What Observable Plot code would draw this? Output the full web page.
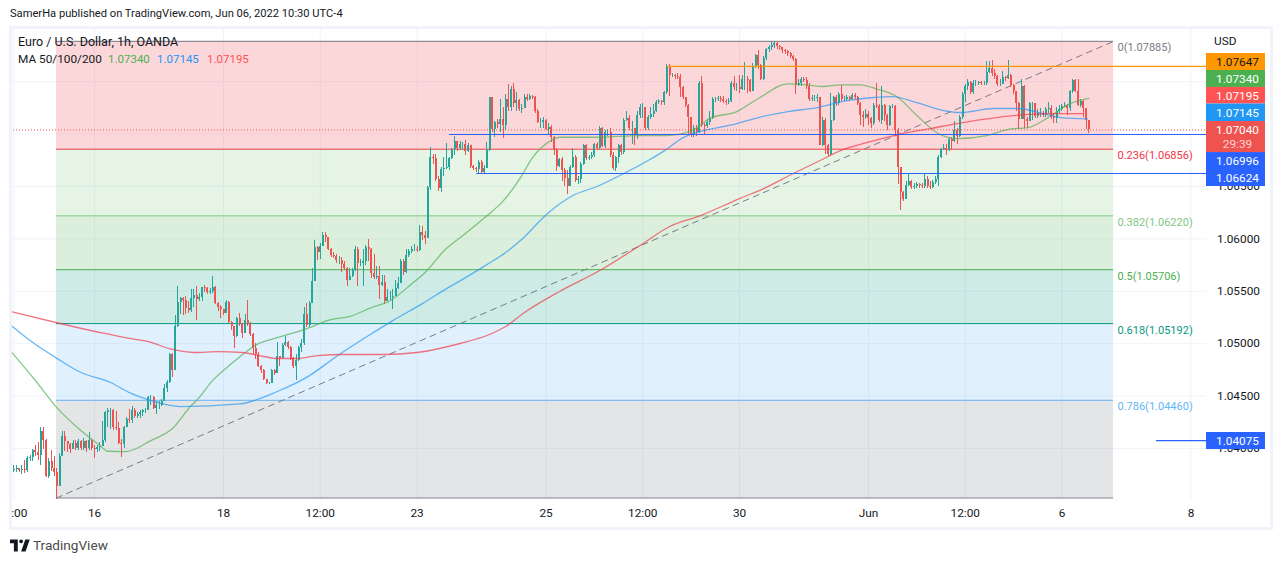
<!DOCTYPE html>
<html><head><meta charset="utf-8">
<script src="https://cdn.jsdelivr.net/npm/d3@7"></script>
<script src="https://cdn.jsdelivr.net/npm/@observablehq/plot@0.6"></script>
<style>
html,body{margin:0;padding:0;background:#fff;overflow:hidden}
body{width:1280px;height:563px;position:relative;font-family:Roboto,sans-serif;color:#131722}
svg{display:block}
#by{height:26px;line-height:27px;padding-left:10px;font-size:11.15px;color:#131722;white-space:nowrap}
#frame{position:absolute;left:9px;top:26px;width:1258px;height:498px;border:3px solid #f0f3fa;pointer-events:none}
.over{position:absolute;font-size:11.5px;white-space:nowrap;line-height:14px}
#foot{position:absolute;left:10px;top:537px;height:16px;display:flex;align-items:center;font-size:13.6px;color:#4a4a4a}
#foot img{width:20px;height:13px;margin-right:3px;display:block}
</style></head><body>
<div id="by">SamerHa published on TradingView.com, Jun 06, 2022 10:30 UTC-4</div>
<div id="chart"></div>
<div id="frame"></div>
<div class="over" style="left:18px;top:35px;font-size:12.5px">Euro / U.S. Dollar, 1h, OANDA</div>
<div class="over" style="left:18px;top:52px;font-size:11.8px">MA 50/100/200</div>
<div class="over" style="left:108px;top:52px;color:#4caf50">1.07340</div>
<div class="over" style="left:157px;top:52px;color:#2196f3">1.07145</div>
<div class="over" style="left:207px;top:52px;color:#ff5252">1.07195</div>
<div class="over" style="left:1214px;top:34px;font-size:11.8px">USD</div>
<div id="foot"><img alt="" src="data:image/svg+xml,%3Csvg xmlns='http://www.w3.org/2000/svg' viewBox='0 0 36 22'%3E%3Cpath fill='%23131722' d='M14 0H0v7h7v15h7zM28 22h-8l7.5-22h8zM20 0a3.500 3.500 0 1 1 0 7a3.500 3.500 0 0 1 0-7z'/%3E%3C/svg%3E"><span>TradingView</span></div>
<script>
// Hourly candles, pips above 1.0000, first bar = index -30 (bar 0 is the "16" tick)
const firstBar = -30;
const firstOpen = 379;
const closes = [
380,381,379,380,379,390,391,398,396,393,
416,408,373,388,381,377,364,392,411,407,
404,399,405,400,407,400,407,400,408,400,
399,401,402,408,434,436,436,420,419,405,
404,420,428,427,436,431,432,434,436,436,
449,449,438,441,441,445,457,463,490,474,
516,539,543,541,534,532,543,546,542,544,
554,553,549,550,554,538,535,533,529,539,
520,516,507,524,518,510,522,518,509,495,
490,478,474,466,462,462,474,472,488,486,
498,501,496,486,478,484,496,500,528,517,
538,559,592,587,593,603,601,590,584,583,
579,579,576,572,560,564,570,590,577,577,
578,592,590,567,563,564,556,558,540,544,
544,545,553,557,578,568,584,588,590,590,
589,606,603,600,649,678,677,657,648,666,
667,668,677,685,693,686,690,690,683,689,
669,667,666,673,663,667,684,735,704,711,
709,714,708,733,725,743,729,732,723,724,
735,733,736,735,722,711,711,713,704,706,
697,684,669,676,665,658,650,668,678,656,
657,671,689,677,678,680,690,686,705,688,
702,702,680,667,678,689,682,713,715,705,
705,699,718,725,725,705,716,719,722,730,
731,730,740,764,756,756,755,754,744,735,
727,716,699,705,702,748,708,707,711,715,
733,733,734,733,731,730,731,748,744,744,
743,752,752,751,741,764,775,765,752,772,
781,783,785,786,784,783,780,779,777,774,
771,746,748,752,751,745,733,734,734,735,
689,713,689,681,713,735,729,738,733,733,
735,733,737,735,729,718,716,719,715,710,
727,726,713,727,718,708,726,726,703,668,
644,638,651,655,649,650,652,651,650,657,
650,649,654,657,678,685,686,684,695,693,
703,698,716,738,745,749,740,748,748,749,
748,748,759,763,758,755,747,747,754,753,
756,746,741,729,714,745,714,712,729,729,
717,720,720,718,723,724,716,715,722,723,
726,727,724,741,751,741,727,731,724,713,
704];
const highs = [
384,384,381,384,389,392,393,399,403,406,
420,420,409,390,398,392,381,395,416,416,
407,405,408,408,409,408,410,408,415,409,
403,403,406,426,435,438,438,437,435,425,
409,421,430,437,440,438,434,436,437,438,
450,451,450,445,445,447,461,465,491,491,
527,555,544,544,545,540,552,552,555,548,
554,556,554,553,564,555,539,536,533,541,
540,521,516,525,529,519,528,541,520,510,
500,492,479,475,466,463,475,475,501,488,
500,507,502,497,487,490,497,504,535,538,
540,572,598,593,596,606,606,601,591,587,
585,583,582,578,573,572,572,593,592,580,
590,594,599,591,585,574,574,565,565,552,
550,552,560,563,580,580,590,590,593,595,
593,613,612,607,650,687,681,681,660,668,
678,691,678,686,698,693,693,692,694,691,
689,670,668,675,675,670,692,735,734,712,
714,733,725,738,747,745,748,740,733,728,
738,738,738,737,736,723,715,716,714,710,
708,698,686,677,678,667,665,670,686,680,
660,673,690,690,680,682,691,692,707,706,
703,704,705,682,679,690,690,715,722,718,
712,705,722,728,729,725,718,725,728,732,
733,732,741,766,766,758,757,758,757,745,
735,728,716,708,708,750,755,710,714,722,
735,735,736,736,736,733,734,750,755,748,
756,756,768,755,752,767,776,780,766,774,
782,785,788,788,787,785,783,781,780,778,
775,772,752,754,754,754,748,737,737,738,
735,716,715,690,739,736,737,740,746,736,
737,736,739,739,736,730,722,723,722,716,
729,748,728,745,728,719,727,728,727,705,
668,645,655,662,656,653,654,653,653,661,
660,655,656,660,680,686,690,690,697,697,
712,705,718,740,747,752,750,751,751,750,
750,750,769,769,770,762,756,752,760,755,
770,757,747,741,730,752,746,716,730,730,
729,723,724,722,725,730,727,720,725,727,
728,730,728,742,752,752,752,733,732,724,
713];
const lows = [
377,377,377,375,376,377,388,388,392,389,
384,399,372,371,378,373,351,364,392,397,
396,395,399,398,398,398,398,396,398,398,
390,396,397,402,406,420,418,417,417,404,
391,400,420,424,424,429,429,429,431,433,
436,441,437,432,437,440,445,453,462,468,
474,515,528,527,528,529,530,535,522,540,
540,549,547,547,548,537,531,524,527,529,
519,513,495,506,516,505,510,516,507,490,
485,477,472,465,461,461,462,470,472,478,
486,497,494,484,476,465,483,492,498,515,
515,538,559,579,580,593,597,589,582,581,
577,576,568,570,555,561,563,569,555,574,
555,575,578,562,561,561,542,555,537,541,
541,533,545,552,559,565,567,582,586,588,
587,588,598,595,600,646,671,655,645,644,
660,666,665,676,680,683,684,685,680,682,
667,665,663,662,662,662,667,683,702,697,
705,702,696,703,722,722,725,722,722,720,
726,731,732,733,720,710,705,705,703,700,
692,680,664,668,655,650,642,650,667,654,
652,653,670,675,675,676,678,684,685,687,
686,698,678,665,664,672,680,681,712,703,
690,689,695,715,715,703,703,714,716,721,
728,727,727,738,736,754,752,752,735,733,
725,700,697,697,698,701,706,700,705,708,
714,730,731,730,729,727,728,730,742,741,
739,742,742,739,740,741,763,762,751,751,
770,778,780,782,781,780,777,776,774,772,
769,738,745,745,749,743,731,731,731,730,
689,688,681,679,680,712,726,727,731,731,
731,731,733,733,727,708,706,714,708,705,
708,724,711,709,712,703,707,724,700,652,
627,636,638,650,647,647,648,648,648,648,
648,647,648,652,650,677,684,680,683,684,
692,690,697,714,730,742,738,738,745,746,
746,746,746,758,755,752,745,745,747,750,
752,744,738,722,704,714,705,705,712,713,
715,715,716,716,716,720,714,710,710,720,
722,725,718,722,739,740,726,725,716,704,
701];

// Moving averages read at knots: bar index, pips above 1.0000
const ma50Bars = [-31,-22,-14,-5,2,5,11.5,21,29,36,38,44,51,61,67,78,88,95,103,110,118,123,131,136,146,152,158.5,163,170,173,187,203,213,222,229,239,247,258,265,271,277.6,285,291,299,306,314,321,332,341,347,355,363,370];
const ma50 = [492.5,464.9,439,417,403,397.4,397,407.6,419,441,446,465,481,500,505,513.5,523,526,534.5,541,557,568,591,601,622,636,658.5,677.6,694,697,697,698.6,698.6,703,715,721.5,734,748,747,745.4,747,747,743,735,717.7,700.5,695.7,698.6,705,706,716,729,734];
const ma100Bars = [-31,-24,-14,-5,6,13,21,32,54,68,80,90,102,111,122,131,136,146,153,158.5,168.5,178,187,197,206,212,219,239,247,258,269,280,290,297,306,316,322,334.5,343.5,353,359.5,369.5];
const ma100 = [517.3,503,486,472.5,463,453.4,445.8,440,442.5,454.4,469.6,487.8,507.8,522,538.3,552.6,560,575.5,587,598.4,624,641.4,650,662.4,674.8,684,696.7,710,715.8,721.5,725.3,732,734.9,735.8,730,722.5,720.6,724.4,724.4,719.6,715.8,714.5];
const ma200Bars = [-31,-14,2,13,20,29,37,46,55,63,68,75.5,83,92.6,107.5,120,136,147,153,160,173,188,203,214,225.5,240,249,260,270,277.6,287.6,299,311,323,342,354.6,368];
const ma200 = [530.7,520,510.7,505,502,494.5,491.6,492.5,491.6,487.8,485.9,485.9,488.7,489.7,489.7,491.6,500.2,508.8,516.4,529.8,549.8,569.8,593.7,611.8,622.3,638.5,648,662.4,674.8,684.3,692,699.6,705.3,711,717.7,719.6,719.5];

// Fibonacci retracement
const fibLevels = [0,0.236,0.382,0.5,0.618,0.786,1];
const fibPrices = [1.07885,1.06856,1.0622,1.05706,1.05192,1.0446,1.03528];
const fibLineColors = ["#787b86","#f23645","#81c784","#4caf50","#089981","#64b5f6","#787b86"];
const fibFillColors = ["#f23645","#81c784","#4caf50","#089981","#64b5f6","#787b86"];
const fibBarStart = -14.14, fibBarEnd = 379.2;

// Horizontal levels
const levelPrices = [1.07647,1.06996,1.06624,1.04075];
const levelStartBars = [213.3,132.1,142.2,395.2];
const levelColors = ["#ff9800","#2962ff","#2962ff","#2962ff"];
const lastPrice = 1.0704;

// Axes
const xTickBars = [-28,0,48,84,120,168,204,240,288,324,360,408];
const xTickText = [":00","16","18","12:00","23","25","12:00","30","Jun","12:00","6","8"];
const xGridBars = [-30,0,48,84,120,168,204,240,288,324,360,408];
const yGrid = [1.04,1.045,1.05,1.055,1.06,1.065,1.07,1.075];
const yTicks = [1.04,1.045,1.05,1.055,1.06,1.065];

// Price tags on the right scale: label, colour, text colour, band shown on the scale
const tagText = ["1.07647","1.07340","1.07195","1.07145","1.06996","1.06624","1.04075"];
const tagFill = ["#ff9800","#4caf50","#ff5252","#2196f3","#2962ff","#2962ff","#2962ff"];
const tagInk = ["#131722","#fff","#fff","#fff","#fff","#fff","#fff"];
const tagTop = [1.07769,1.07607,1.07445,1.07287,1.06824,1.06662,1.04153];
const tagBottom = [1.07607,1.07445,1.07287,1.0712,1.06662,1.065,1.0399];
const lastTag = {top:1.0712,bottom:1.06824,price:"1.07040",priceAt:1.07038,count:"29:39",countAt:1.06906,fill:"#ef5350"};
const scaleLeft = 413.77, scaleRight = 435.72, scaleText = 425.3, chartLeft = -31.26;

const px = p => 1 + p/10000;
const candles = closes.map((c,k)=>({bar:firstBar+k,o:px(k?closes[k-1]:firstOpen),c:px(c),h:px(highs[k]),l:px(lows[k])}));
const ups = candles.filter(d=>d.c>=d.o), downs = candles.filter(d=>d.c<d.o);
const UP="#26a69a", DOWN="#ef5350";
const series = (bars,vals)=>bars.map((b,k)=>({bar:b,v:px(vals[k])}));
const fibRows = fibLevels.map((lv,k)=>({lv,price:fibPrices[k],line:fibLineColors[k]}));
const fibBands = fibFillColors.map((f,k)=>({y1:fibPrices[k],y2:fibPrices[k+1],f}));
const levels = levelPrices.map((p,k)=>({p,s:levelStartBars[k],col:levelColors[k]}));
const tags = tagText.map((t,k)=>({t,f:tagFill[k],ink:tagInk[k],top:tagTop[k],bot:tagBottom[k]}));
const maLine=(d,col)=>Plot.line(d,{x:"bar",y:"v",stroke:col,strokeWidth:1.3,strokeOpacity:.68,curve:"monotone-x"});
const crisp={shapeRendering:"crispEdges"};

const chart = Plot.plot({
  width:1280,height:501,marginLeft:10,marginRight:74,marginTop:3,marginBottom:27,
  style:{fontFamily:'Roboto,sans-serif',fontSize:"11.8px",color:"#131722",background:"#fff"},
  color:{type:"identity"},
  x:{domain:[chartLeft,scaleLeft]},
  y:{domain:[1.03504,1.07998]},
  marks:[
    Plot.ruleY(yGrid,{x1:chartLeft,x2:scaleLeft,stroke:"#f0f3fa",strokeWidth:1}),
    Plot.ruleX(xGridBars,{stroke:"#f0f3fa",strokeWidth:1}),
    Plot.rect(fibBands,{x1:fibBarStart,x2:fibBarEnd,y1:"y1",y2:"y2",fill:"f",fillOpacity:.2}),
    Plot.ruleY(fibRows,{y:"price",x1:fibBarStart,x2:fibBarEnd,stroke:"line",strokeWidth:1}),
    Plot.text(fibRows.slice(0,6),{x:fibBarEnd+1.45,y:"price",text:d=>`${d.lv}(${d.price.toFixed(5)})`,fill:"line",textAnchor:"start",dy:6.5,fontSize:11}),
    Plot.line([{x:fibBarStart,y:fibPrices[6]},{x:fibBarEnd,y:fibPrices[0]}],{x:"x",y:"y",stroke:"#787b86",strokeWidth:1,strokeDasharray:"6,5"}),
    Plot.ruleY([lastPrice],{x1:chartLeft,x2:scaleLeft,stroke:DOWN,strokeWidth:1,strokeDasharray:"1,2"}),
    Plot.ruleX(ups,{x:"bar",y1:"l",y2:"h",stroke:UP,strokeWidth:1,...crisp}),
    Plot.ruleX(downs,{x:"bar",y1:"l",y2:"h",stroke:DOWN,strokeWidth:1,...crisp}),
    Plot.ruleX(ups,{x:"bar",y1:"o",y2:"c",stroke:UP,strokeWidth:2,...crisp}),
    Plot.ruleX(downs,{x:"bar",y1:"o",y2:"c",stroke:DOWN,strokeWidth:2,...crisp}),
    maLine(series(ma50Bars,ma50),"#4caf50"),
    maLine(series(ma100Bars,ma100),"#2196f3"),
    maLine(series(ma200Bars,ma200),"#f23645"),
    Plot.ruleY(levels,{y:"p",x1:"s",x2:scaleLeft,stroke:"col",strokeWidth:1.2}),
    Plot.axisX({ticks:xTickBars,tickFormat:b=>xTickText[xTickBars.indexOf(b)],tickSize:0,tickPadding:8,label:null,fill:"#131722"}),
    Plot.axisY({anchor:"right",ticks:yTicks,tickFormat:d3.format(".5f"),tickSize:0,tickPadding:10.5,label:null,fill:"#131722"}),
    Plot.rect(tags,{x1:scaleLeft,x2:scaleRight,y1:"bot",y2:"top",fill:"f"}),
    Plot.rect([lastTag],{x1:scaleLeft,x2:scaleRight,y1:"bottom",y2:"top",fill:"fill"}),
    Plot.text(tags,{x:scaleText,y:d=>(d.top+d.bot)/2,text:"t",fill:"ink",fontSize:11.8}),
    Plot.text([lastTag],{x:scaleText,y:"priceAt",text:"price",fill:"#fff",fontSize:11.8}),
    Plot.text([lastTag],{x:scaleText,y:"countAt",text:"count",fill:"#fff",fillOpacity:.75,fontSize:11.8})
  ]
});
document.getElementById("chart").appendChild(chart);
</script>
</body></html>
